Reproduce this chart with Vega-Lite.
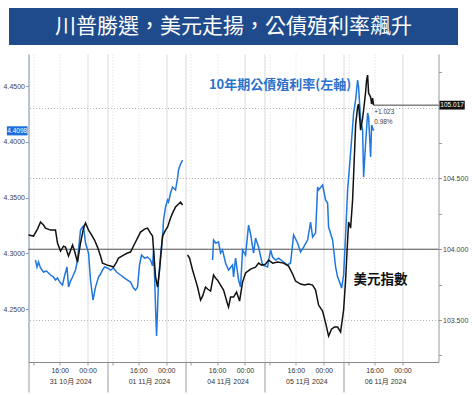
{
  "$schema": "https://vega.github.io/schema/vega-lite/v6.json",
  "background": "white",
  "padding": {"left": 3, "top": 8, "right": 4, "bottom": 4},
  "bounds": "flush",
  "center": true,
  "spacing": 9,
  "config": {"view": {"stroke": null}, "font": "Liberation Sans"},
  "datasets": {
    "usd": [
      {"g":1,"t":0,"v":104.100},{"g":1,"t":1.52,"v":104.093},{"g":1,"t":2.74,"v":104.142},{"g":1,"t":3.66,"v":104.192},{"g":1,"t":4.57,"v":104.171},{"g":1,"t":5.18,"v":104.149},{"g":1,"t":6.71,"v":104.135},{"g":1,"t":8.23,"v":104.135},{"g":1,"t":8.84,"v":104.044},{"g":1,"t":9.76,"v":103.987},{"g":1,"t":10.67,"v":104.022},{"g":1,"t":11.28,"v":104.015},{"g":1,"t":12.20,"v":103.952},{"g":1,"t":13.42,"v":104.029},{"g":1,"t":14.03,"v":103.987},{"g":1,"t":14.94,"v":103.909},{"g":1,"t":15.86,"v":104.044},{"g":1,"t":16.77,"v":104.149},{"g":1,"t":17.38,"v":104.185},{"g":1,"t":18.30,"v":104.135},{"g":1,"t":18.91,"v":104.114},{"g":1,"t":20.13,"v":104.065},{"g":1,"t":21.04,"v":104.015},{"g":1,"t":21.96,"v":103.952},{"g":1,"t":22.57,"v":103.902},{"g":1,"t":24.09,"v":103.888},{"g":1,"t":25.01,"v":103.881},{"g":1,"t":25.92,"v":103.874},{"g":1,"t":26.84,"v":103.909},{"g":1,"t":27.45,"v":103.938},{"g":1,"t":28.97,"v":103.959},{"g":1,"t":30.19,"v":103.973},{"g":1,"t":31.11,"v":103.980},{"g":1,"t":32.63,"v":104.051},{"g":1,"t":34.16,"v":104.121},{"g":1,"t":35.38,"v":104.142},{"g":1,"t":36.29,"v":104.149},{"g":1,"t":37.21,"v":104.114},{"g":1,"t":37.82,"v":104.093},{"g":1,"t":38.73,"v":103.804},{"g":1,"t":39.34,"v":103.733},{"g":1,"t":39.95,"v":103.853},{"g":1,"t":40.87,"v":104.093},{"g":1,"t":41.78,"v":104.135},{"g":1,"t":42.39,"v":104.156},{"g":1,"t":43.31,"v":104.220},{"g":1,"t":43.92,"v":104.255},{"g":1,"t":44.83,"v":104.298},{"g":1,"t":45.44,"v":104.312},{"g":1,"t":46.36,"v":104.333},{"g":1,"t":46.97,"v":104.312},
      {"g":2,"t":48.49,"v":103.959},{"g":2,"t":49.10,"v":103.938},{"g":2,"t":50.02,"v":103.853},{"g":2,"t":50.93,"v":103.782},{"g":2,"t":51.54,"v":103.733},{"g":2,"t":52.46,"v":103.641},{"g":2,"t":53.07,"v":103.669},{"g":2,"t":53.98,"v":103.733},{"g":2,"t":54.59,"v":103.719},{"g":2,"t":55.51,"v":103.705},{"g":2,"t":56.42,"v":103.818},{"g":2,"t":57.03,"v":103.796},{"g":2,"t":57.64,"v":103.782},{"g":2,"t":58.55,"v":103.747},{"g":2,"t":59.47,"v":103.712},{"g":2,"t":60.69,"v":103.613},{"g":2,"t":60.99,"v":103.592},{"g":2,"t":61.60,"v":103.662},{"g":2,"t":62.52,"v":103.662},{"g":2,"t":63.43,"v":103.698},{"g":2,"t":64.35,"v":103.634},{"g":2,"t":65.26,"v":103.768},{"g":2,"t":66.18,"v":103.832},{"g":2,"t":67.70,"v":103.860},{"g":2,"t":69.23,"v":103.874},{"g":2,"t":70.14,"v":103.902},{"g":2,"t":71.06,"v":103.888},{"g":2,"t":72.28,"v":103.895},{"g":2,"t":73.19,"v":103.924},{"g":2,"t":74.41,"v":103.902},{"g":2,"t":75.94,"v":103.909},{"g":2,"t":77.77,"v":103.902},{"g":2,"t":79.29,"v":103.881},{"g":2,"t":80.51,"v":103.825},{"g":2,"t":81.43,"v":103.775},{"g":2,"t":82.95,"v":103.754},{"g":2,"t":84.17,"v":103.747},{"g":2,"t":85.39,"v":103.754},{"g":2,"t":86.61,"v":103.747},{"g":2,"t":87.53,"v":103.712},{"g":2,"t":88.44,"v":103.606},{"g":2,"t":89.66,"v":103.564},{"g":2,"t":90.58,"v":103.480},{"g":2,"t":91.49,"v":103.387},{"g":2,"t":92.41,"v":103.437},{"g":2,"t":93.32,"v":103.451},{"g":2,"t":94.24,"v":103.451},{"g":2,"t":95.15,"v":103.416},{"g":2,"t":96.07,"v":103.571},{"g":2,"t":96.68,"v":103.782},{"g":2,"t":97.13,"v":103.994},{"g":2,"t":97.59,"v":104.192},{"g":2,"t":98.20,"v":104.149},{"g":2,"t":98.81,"v":104.347},{"g":2,"t":99.12,"v":104.524},{"g":2,"t":99.73,"v":104.876},{"g":2,"t":100.34,"v":105.004},{"g":2,"t":100.64,"v":105.025},{"g":2,"t":101.25,"v":104.841},{"g":2,"t":101.86,"v":104.926},{"g":2,"t":102.17,"v":104.982},{"g":2,"t":102.78,"v":105.109},{"g":2,"t":103.08,"v":105.194},{"g":2,"t":103.39,"v":105.229},{"g":2,"t":103.69,"v":105.102},{"g":2,"t":104.30,"v":105.074},{"g":2,"t":104.61,"v":105.025},{"g":2,"t":104.91,"v":105.067},{"g":2,"t":105.21,"v":105.017}
    ],
    "yld": [
      {"g":1,"t":2.13,"v":4.2939},{"g":1,"t":2.59,"v":4.2877},{"g":1,"t":3.05,"v":4.2922},{"g":1,"t":3.66,"v":4.2868},{"g":1,"t":4.57,"v":4.2832},{"g":1,"t":5.49,"v":4.2841},{"g":1,"t":6.71,"v":4.2805},{"g":1,"t":7.62,"v":4.2787},{"g":1,"t":8.23,"v":4.2760},{"g":1,"t":8.84,"v":4.2778},{"g":1,"t":9.76,"v":4.2733},{"g":1,"t":10.37,"v":4.2715},{"g":1,"t":10.98,"v":4.2796},{"g":1,"t":11.74,"v":4.2877},{"g":1,"t":12.20,"v":4.2697},{"g":1,"t":12.81,"v":4.2751},{"g":1,"t":13.42,"v":4.2787},{"g":1,"t":14.33,"v":4.2850},{"g":1,"t":14.94,"v":4.2939},{"g":1,"t":15.55,"v":4.3119},{"g":1,"t":15.86,"v":4.3209},{"g":1,"t":16.47,"v":4.3235},{"g":1,"t":16.77,"v":4.3244},{"g":1,"t":17.38,"v":4.3092},{"g":1,"t":18.30,"v":4.3002},{"g":1,"t":18.91,"v":4.2760},{"g":1,"t":19.67,"v":4.2581},{"g":1,"t":20.43,"v":4.2697},{"g":1,"t":21.35,"v":4.2787},{"g":1,"t":21.96,"v":4.2814},{"g":1,"t":22.57,"v":4.2850},{"g":1,"t":23.18,"v":4.2877},{"g":1,"t":24.09,"v":4.2868},{"g":1,"t":25.01,"v":4.2850},{"g":1,"t":25.92,"v":4.2868},{"g":1,"t":26.84,"v":4.2832},{"g":1,"t":28.06,"v":4.2805},{"g":1,"t":29.28,"v":4.2778},{"g":1,"t":30.19,"v":4.2760},{"g":1,"t":31.11,"v":4.2742},{"g":1,"t":32.02,"v":4.2688},{"g":1,"t":32.63,"v":4.2670},{"g":1,"t":33.24,"v":4.2697},{"g":1,"t":33.85,"v":4.2895},{"g":1,"t":34.46,"v":4.2984},{"g":1,"t":35.38,"v":4.2957},{"g":1,"t":36.29,"v":4.2966},{"g":1,"t":37.21,"v":4.2939},{"g":1,"t":37.82,"v":4.2886},{"g":1,"t":38.12,"v":4.3029},{"g":1,"t":38.43,"v":4.2805},{"g":1,"t":38.73,"v":4.2518},{"g":1,"t":39.04,"v":4.2258},{"g":1,"t":39.34,"v":4.2491},{"g":1,"t":39.65,"v":4.2760},{"g":1,"t":40.26,"v":4.2984},{"g":1,"t":40.87,"v":4.3146},{"g":1,"t":41.17,"v":4.3298},{"g":1,"t":41.78,"v":4.3415},{"g":1,"t":42.39,"v":4.3478},{"g":1,"t":42.70,"v":4.3460},{"g":1,"t":43.31,"v":4.3540},{"g":1,"t":43.92,"v":4.3594},{"g":1,"t":44.83,"v":4.3567},{"g":1,"t":45.44,"v":4.3675},{"g":1,"t":45.75,"v":4.3747},{"g":1,"t":46.36,"v":4.3800},{"g":1,"t":46.97,"v":4.3836},
      {"g":2,"t":56.11,"v":4.2939},{"g":2,"t":56.42,"v":4.3119},{"g":2,"t":57.03,"v":4.3092},{"g":2,"t":57.94,"v":4.3101},{"g":2,"t":58.55,"v":4.3002},{"g":2,"t":59.16,"v":4.3029},{"g":2,"t":60.08,"v":4.2913},{"g":2,"t":60.99,"v":4.2850},{"g":2,"t":62.21,"v":4.2895},{"g":2,"t":62.52,"v":4.2787},{"g":2,"t":63.13,"v":4.2957},{"g":2,"t":64.04,"v":4.2760},{"g":2,"t":64.65,"v":4.2697},{"g":2,"t":65.26,"v":4.3029},{"g":2,"t":66.18,"v":4.2984},{"g":2,"t":67.09,"v":4.3253},{"g":2,"t":67.70,"v":4.3173},{"g":2,"t":68.62,"v":4.3002},{"g":2,"t":69.23,"v":4.3137},{"g":2,"t":70.14,"v":4.3056},{"g":2,"t":71.36,"v":4.2895},{"g":2,"t":72.89,"v":4.2877},{"g":2,"t":73.80,"v":4.3029},{"g":2,"t":74.41,"v":4.2966},{"g":2,"t":75.33,"v":4.2939},{"g":2,"t":76.24,"v":4.2957},{"g":2,"t":77.77,"v":4.2922},{"g":2,"t":78.99,"v":4.2895},{"g":2,"t":79.90,"v":4.2913},{"g":2,"t":80.82,"v":4.3164},{"g":2,"t":82.04,"v":4.3092},{"g":2,"t":82.95,"v":4.3011},{"g":2,"t":83.87,"v":4.3056},{"g":2,"t":85.09,"v":4.3119},{"g":2,"t":86.00,"v":4.3280},{"g":2,"t":86.61,"v":4.3146},{"g":2,"t":87.53,"v":4.3182},{"g":2,"t":88.14,"v":4.3594},{"g":2,"t":88.44,"v":4.3567},{"g":2,"t":89.66,"v":4.3612},{"g":2,"t":90.58,"v":4.3478},{"g":2,"t":91.19,"v":4.3451},{"g":2,"t":91.49,"v":4.3235},{"g":2,"t":92.71,"v":4.3119},{"g":2,"t":93.63,"v":4.2877},{"g":2,"t":94.24,"v":4.2787},{"g":2,"t":94.85,"v":4.2742},{"g":2,"t":95.46,"v":4.2688},{"g":2,"t":96.07,"v":4.2805},{"g":2,"t":96.68,"v":4.3164},{"g":2,"t":97.29,"v":4.3567},{"g":2,"t":98.20,"v":4.3899},{"g":2,"t":99.12,"v":4.4258},{"g":2,"t":99.73,"v":4.4374},{"g":2,"t":100.34,"v":4.4554},{"g":2,"t":100.64,"v":4.4491},{"g":2,"t":101.25,"v":4.4195},{"g":2,"t":101.86,"v":4.4105},{"g":2,"t":102.17,"v":4.3684},{"g":2,"t":102.78,"v":4.3989},{"g":2,"t":103.39,"v":4.4258},{"g":2,"t":103.69,"v":4.4222},{"g":2,"t":104.30,"v":4.3863},{"g":2,"t":104.61,"v":4.4150},{"g":2,"t":105.21,"v":4.4098}
    ]
  },
  "vconcat": [
    {
      "width": 449,
      "height": 37,
      "view": {"fill": "#1f4b8c", "stroke": null},
      "data": {"values": [{"title": "川普勝選，美元走揚，公債殖利率飆升"}]},
      "mark": {"type": "text", "font": "Noto Sans CJK TC", "fontSize": 21, "color": "white", "align": "center", "baseline": "middle"},
      "encoding": {"text": {"field": "title"}}
    },
    {
      "width": 410,
      "height": 308,
      "resolve": {"scale": {"y": "independent"}, "axis": {"x": "independent"}},
      "layer": [
        {
          "data": {"values": [{"v": 104.0}]},
          "mark": {"type": "rule", "color": "#555", "strokeWidth": 1},
          "encoding": {
            "y": {"field": "v", "type": "quantitative", "scale": {"domain": [103.204, 105.378], "nice": false, "zero": false}, "axis": null}
          }
        },
        {
          "data": {"name": "yld"},
          "mark": {"type": "line", "color": "#1f77dd", "strokeWidth": 1.5},
          "encoding": {
            "x": {"field": "t", "type": "quantitative", "scale": {"domain": [0, 125], "nice": false, "zero": false},
              "axis": {"title": null, "orient": "bottom", "values": [12.7, 36.7, 60.7, 84.7, 108.7],
                "labelExpr": "datum.value < 24 ? '31 10月 2024' : datum.value < 48 ? '01 11月 2024' : datum.value < 72 ? '04 11月 2024' : datum.value < 96 ? '05 11月 2024' : '06 11月 2024'",
                "ticks": false, "domain": false, "grid": false, "labelPadding": 15, "labelFontSize": 7, "labelColor": "#333",
                "labelFont": "Liberation Sans Narrow, Liberation Sans, Noto Sans CJK TC, sans-serif", "labelOverlap": false, "labelFlush": false}},
            "y": {"field": "v", "type": "quantitative", "scale": {"domain": [4.2025, 4.4787], "nice": false, "zero": false},
              "axis": {"orient": "left", "title": null, "values": [4.25, 4.3, 4.35, 4.4, 4.45], "format": ".4f", "grid": false,
                "tickSize": 3, "tickColor": "#8a9bb8", "domainColor": "#8a9bb8", "labelFontSize": 7, "labelColor": "#444",
                "labelFont": "Liberation Sans Narrow, Liberation Sans, sans-serif", "labelPadding": 1}},
            "detail": {"field": "g"}
          }
        },
        {
          "data": {"name": "usd"},
          "mark": {"type": "line", "color": "#111111", "strokeWidth": 1.5},
          "encoding": {
            "x": {"field": "t", "type": "quantitative", "scale": {"domain": [0, 125], "nice": false, "zero": false},
              "axis": {"title": null, "orient": "bottom",
                "values": [0, 1.5, 9.5, 18, 24, 25.5, 33.5, 42, 48, 49.5, 57.5, 66, 72, 73.5, 81.5, 90, 96, 97.5, 105.5, 114],
                "labelExpr": "(datum.value % 24 == 9.5) ? '16:00' : ((datum.value % 24 == 18) ? '00:00' : '')",
                "grid": true, "gridColor": "#cfcfcf", "gridWidth": 0.8,
                "gridDash": {"condition": {"test": "datum.value % 24 == 1.5 || datum.value % 24 == 9.5", "value": [1, 2]}, "value": []},
                "tickSize": {"condition": {"test": "datum.value % 24 == 0", "value": 30}, "value": 3},
                "tickColor": "#999", "domainColor": "#888", "labelFontSize": 7, "labelColor": "#333", "labelPadding": 1,
                "labelFont": "Liberation Sans Narrow, Liberation Sans, sans-serif", "labelOverlap": false, "labelFlush": false}},
            "y": {"field": "v", "type": "quantitative", "scale": {"domain": [103.204, 105.378], "nice": false, "zero": false},
              "axis": {"orient": "right", "title": null, "values": [103.25, 103.5, 103.75, 104, 104.25, 104.5, 104.75, 105, 105.25],
                "labelExpr": "(datum.value * 4 % 2 == 0 && datum.value != 105) ? format(datum.value, '.3f') : ''",
                "grid": true, "gridDash": [1, 2], "gridColor": "#b5b5b5",
                "gridOpacity": {"condition": {"test": "datum.value * 4 % 2 == 0", "value": 1}, "value": 0},
                "tickSize": 3, "tickColor": "#999", "domainColor": "#999", "labelFontSize": 7, "labelColor": "#444",
                "labelFont": "Liberation Sans Narrow, Liberation Sans, sans-serif", "labelPadding": 1}},
            "detail": {"field": "g"}
          }
        },
        {
          "data": {"values": [{"t": 105.21, "t2": 125, "v": 105.017}]},
          "mark": {"type": "rule", "color": "#444", "strokeWidth": 1},
          "encoding": {
            "x": {"field": "t", "type": "quantitative", "scale": {"domain": [0, 125], "nice": false, "zero": false}, "axis": null},
            "x2": {"field": "t2"},
            "y": {"field": "v", "type": "quantitative", "scale": {"domain": [103.204, 105.378], "nice": false, "zero": false}, "axis": null}
          }
        },
        {
          "data": {"values": [{"t": 125.3, "t2": 133.0, "v": 104.986, "v2": 105.048}]},
          "mark": {"type": "rect", "color": "#111111"},
          "encoding": {
            "x": {"field": "t", "type": "quantitative", "scale": {"domain": [0, 125], "nice": false, "zero": false}, "axis": null},
            "x2": {"field": "t2"},
            "y": {"field": "v", "type": "quantitative", "scale": {"domain": [103.204, 105.378], "nice": false, "zero": false}, "axis": null},
            "y2": {"field": "v2"}
          }
        },
        {
          "data": {"values": [{"t": 129.15, "v": 105.017, "label": "105.017"}]},
          "mark": {"type": "text", "color": "white", "fontSize": 6.5, "align": "center", "baseline": "middle", "font": "Liberation Sans Narrow, Liberation Sans, sans-serif"},
          "encoding": {
            "x": {"field": "t", "type": "quantitative", "scale": {"domain": [0, 125], "nice": false, "zero": false}, "axis": null},
            "y": {"field": "v", "type": "quantitative", "scale": {"domain": [103.204, 105.378], "nice": false, "zero": false}, "axis": null},
            "text": {"field": "label"}
          }
        },
        {
          "data": {"values": [{"t": -6.6, "t2": -0.3, "v": 4.4057, "v2": 4.4139}]},
          "mark": {"type": "rect", "color": "#1a6fdc"},
          "encoding": {
            "x": {"field": "t", "type": "quantitative", "scale": {"domain": [0, 125], "nice": false, "zero": false}, "axis": null},
            "x2": {"field": "t2"},
            "y": {"field": "v", "type": "quantitative", "scale": {"domain": [4.2025, 4.4787], "nice": false, "zero": false}, "axis": null},
            "y2": {"field": "v2"}
          }
        },
        {
          "data": {"values": [{"t": -3.45, "v": 4.4098, "label": "4.4098"}]},
          "mark": {"type": "text", "color": "white", "fontSize": 6.5, "align": "center", "baseline": "middle", "font": "Liberation Sans Narrow, Liberation Sans, sans-serif"},
          "encoding": {
            "x": {"field": "t", "type": "quantitative", "scale": {"domain": [0, 125], "nice": false, "zero": false}, "axis": null},
            "y": {"field": "v", "type": "quantitative", "scale": {"domain": [4.2025, 4.4787], "nice": false, "zero": false}, "axis": null},
            "text": {"field": "label"}
          }
        },
        {
          "data": {"values": [{"t": 55.0, "v": 4.4509, "label": "10年期公債殖利率(左軸)"}]},
          "mark": {"type": "text", "color": "#2b72cc", "fontSize": 13, "fontWeight": "bold", "align": "left", "baseline": "middle", "font": "Noto Sans CJK TC"},
          "encoding": {
            "x": {"field": "t", "type": "quantitative", "scale": {"domain": [0, 125], "nice": false, "zero": false}, "axis": null},
            "y": {"field": "v", "type": "quantitative", "scale": {"domain": [4.2025, 4.4787], "nice": false, "zero": false}, "axis": null},
            "text": {"field": "label"}
          }
        },
        {
          "data": {"values": [{"t": 99.1, "v": 103.782, "label": "美元指數"}]},
          "mark": {"type": "text", "color": "#111111", "fontSize": 13.5, "fontWeight": "bold", "align": "left", "baseline": "middle", "font": "Noto Sans CJK TC"},
          "encoding": {
            "x": {"field": "t", "type": "quantitative", "scale": {"domain": [0, 125], "nice": false, "zero": false}, "axis": null},
            "y": {"field": "v", "type": "quantitative", "scale": {"domain": [103.204, 105.378], "nice": false, "zero": false}, "axis": null},
            "text": {"field": "label"}
          }
        },
        {
          "data": {"values": [{"t": 105.4, "v": 104.970, "label": "+1.023"}, {"t": 105.4, "v": 104.900, "label": "0.98%"}]},
          "mark": {"type": "text", "color": "#444", "fontSize": 6.5, "align": "left", "baseline": "middle", "font": "Liberation Sans Narrow, Liberation Sans, sans-serif"},
          "encoding": {
            "x": {"field": "t", "type": "quantitative", "scale": {"domain": [0, 125], "nice": false, "zero": false}, "axis": null},
            "y": {"field": "v", "type": "quantitative", "scale": {"domain": [103.204, 105.378], "nice": false, "zero": false}, "axis": null},
            "text": {"field": "label"}
          }
        }
      ]
    }
  ]
}
